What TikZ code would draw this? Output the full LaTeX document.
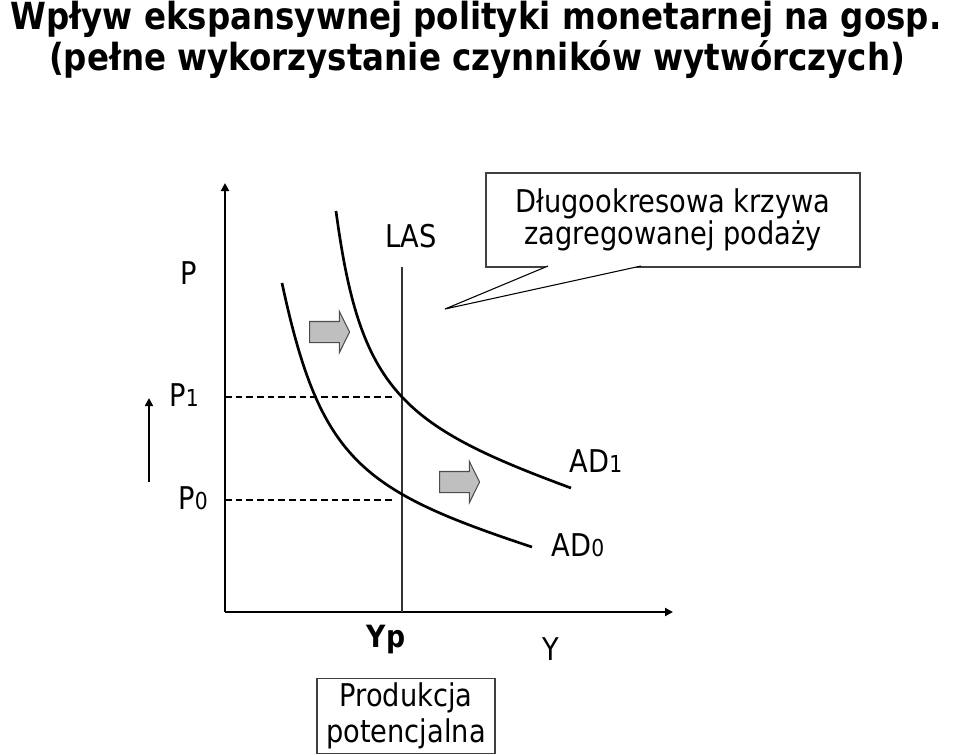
\documentclass[tikz,border=0pt]{standalone}
\usepackage{fontspec}
\setmainfont{DejaVu Sans}[FakeStretch=0.87]
\usetikzlibrary{shapes.arrows,arrows.meta}

\newcommand\subdig[1]{{\fontsize{17.5}{17.5}\selectfont #1}}

\begin{document}
\begin{tikzpicture}[x=0.75pt, y=-0.75pt, thick,
    label node/.style={font=\fontsize{23.5}{21}\selectfont, inner sep=0pt, anchor=base},
    title node/.style={font=\bfseries\fontsize{28}{30}\selectfont, inner sep=0pt, anchor=base},
    text box/.style={draw=black!75, line width=1pt, align=center, inner sep=0pt,
                     font=\fontsize{23.5}{21}\selectfont},
    axis line/.style={line width=1.5pt, -{Triangle[length=6pt,width=6pt]}},
    ad curve/.style={line width=2pt},
    level line/.style={line width=0.8pt, dash pattern=on 5pt off 3pt},
    shift arrow/.style={single arrow, draw=black!70, fill=gray!50, line width=0.8pt,
                        minimum height=30pt, inner xsep=0pt, inner ysep=7.5pt,
                        single arrow head extend=7.5pt, single arrow tip angle=127}]

  \useasboundingbox (0,0) rectangle (960,754);

  \node[title node] (title1) at (476,29) {Wpływ ekspansywnej polityki monetarnej na gosp.};
  \node[title node] (title2) at (477,70) {(pełne wykorzystanie czynników wytwórczych)};

  \coordinate (O) at (225,612);
  \coordinate (ytop) at (225,183);
  \coordinate (xend) at (673,612);
  \coordinate (las bottom) at (402,612);
  \coordinate (las top) at (402,267);
  \coordinate (p1 left) at (225,397);
  \coordinate (p1 right) at (394,397);
  \coordinate (p0 left) at (225,500);
  \coordinate (p0 right) at (394,500);
  \coordinate (ad0 start) at (282,283);
  \coordinate (ad0 end) at (532,547);
  \coordinate (ad1 start) at (336,211);
  \coordinate (ad1 end) at (571,488);
  \coordinate (rise0) at (149,482);
  \coordinate (rise1) at (149,398);

  \node[label node] (P) at (189,284) {P};
  \node[label node] (P1) at (184,406) {P\subdig{1}};
  \node[label node] (P0) at (193,509) {P\subdig{0}};
  \node[label node] (LAS) at (411,247) {LAS};
  \node[label node] (AD1) at (596,472) {AD\subdig{1}};
  \node[label node] (AD0) at (578,556) {AD\subdig{0}};
  \node[label node, font=\bfseries\fontsize{23}{21}\selectfont] (Yp) at (386,647) {Yp};
  \node[label node] (Y) at (551,660) {Y};

  \node[text box, minimum width=133.5pt, minimum height=56.25pt,
        font=\fontsize{23.5}{27}\selectfont] (potential) at (406,716) {Produkcja\\potencjalna};
  \node[text box, minimum width=280.5pt, minimum height=70.5pt] (note) at (673,220)
        {Długookresowa krzywa\\zagregowanej podaży};

  \coordinate (note a) at (548,266);
  \coordinate (note b) at (641,266);
  \coordinate (note tip) at (445,309);
  \fill[white] (note a) -- (note tip) -- (note b) -- cycle;
  \draw[line width=0.8pt] (note a) -- (note tip) -- (note b);

  \node[shift arrow] (shift1) at (327,332) {};
  \node[shift arrow] (shift2) at (457,482) {};

  \draw[axis line] (O) -- (ytop);
  \draw[axis line] (O) -- (xend);
  \draw[line width=1pt, black!80] (las bottom) -- (las top);
  \draw[level line] (p1 left) -- (p1 right);
  \draw[level line] (p0 left) -- (p0 right);
  \draw[ad curve] (ad0 start) .. controls (320,460) and (360,490) .. (ad0 end);
  \draw[ad curve] (ad1 start) .. controls (360,390) and (400,425) .. (ad1 end);
  \draw[line width=1.2pt, -{Triangle[length=6pt,width=6pt]}] (rise0) -- (rise1);

\end{tikzpicture}
\end{document}
